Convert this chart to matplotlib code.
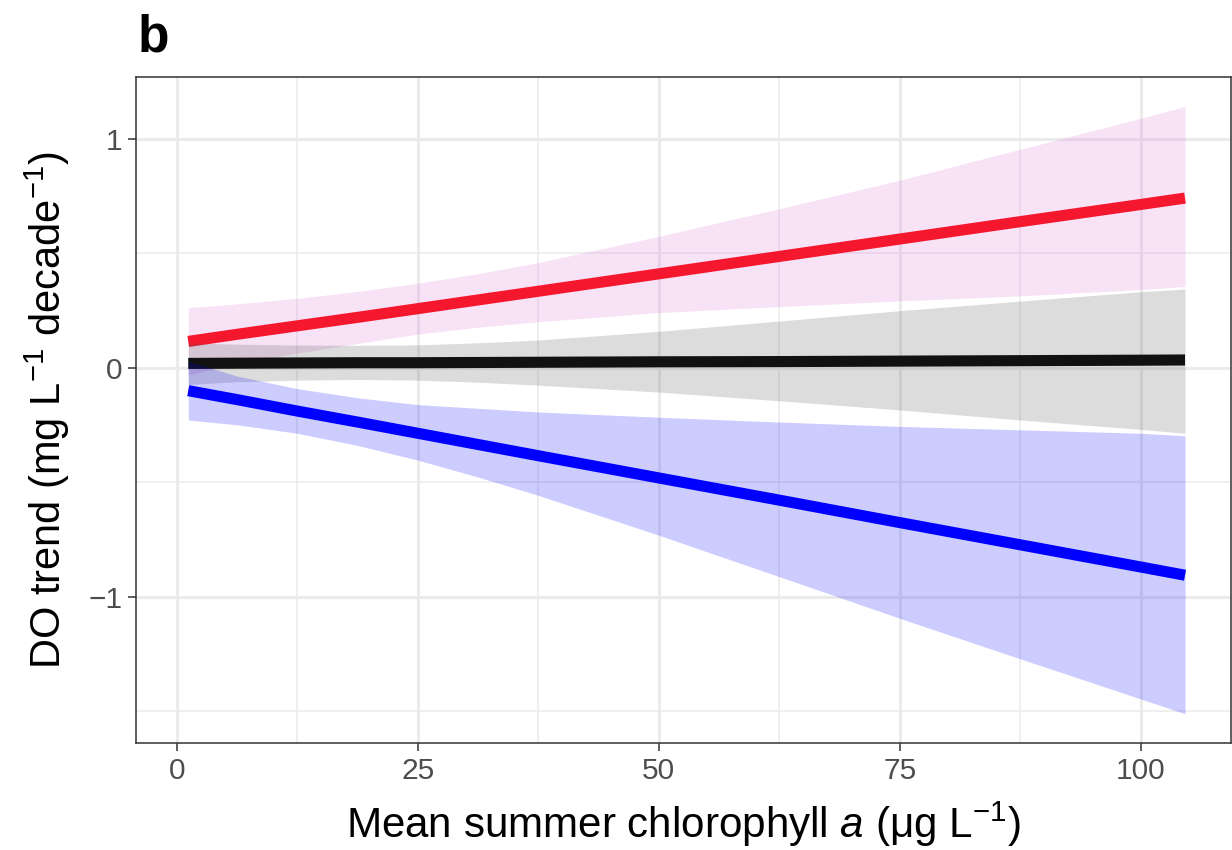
import matplotlib
matplotlib.use("Agg")
import matplotlib.pyplot as plt
from matplotlib.ticker import FixedLocator

plt.rcParams['font.family'] = ['Liberation Sans', 'DejaVu Sans']
plt.rcParams['mathtext.fontset'] = 'custom'
plt.rcParams['mathtext.rm'] = 'Liberation Sans'
plt.rcParams['mathtext.it'] = 'Liberation Sans:italic'
plt.rcParams['mathtext.bf'] = 'Liberation Sans:bold'

# ---- data ----
chl = [1.2, 6.25, 12.5, 18.75, 25, 31.25, 37.5, 50, 62.5, 75, 87.5, 100, 104.6]

red_fit = [0.116, 0.147, 0.184, 0.221, 0.259, 0.297, 0.335, 0.411, 0.487, 0.563, 0.639, 0.714, 0.742]
red_lo = [-0.030, 0.020, 0.065, 0.107, 0.148, 0.178, 0.202, 0.242, 0.268, 0.293, 0.315, 0.342, 0.356]
red_hi = [0.263, 0.280, 0.304, 0.334, 0.370, 0.412, 0.460, 0.575, 0.695, 0.820, 0.955, 1.090, 1.142]

grey_fit = [0.020, 0.021, 0.022, 0.023, 0.023, 0.024, 0.025, 0.027, 0.028, 0.030, 0.032, 0.034, 0.035]
grey_lo = [-0.072, -0.060, -0.053, -0.050, -0.053, -0.062, -0.075, -0.105, -0.143, -0.183, -0.227, -0.268, -0.285]
grey_hi = [0.110, 0.104, 0.100, 0.099, 0.101, 0.110, 0.122, 0.160, 0.205, 0.250, 0.292, 0.333, 0.345]

blue_fit = [-0.099, -0.138, -0.188, -0.236, -0.285, -0.334, -0.383, -0.480, -0.577, -0.675, -0.772, -0.869, -0.905]
blue_lo = [-0.227, -0.248, -0.285, -0.338, -0.402, -0.476, -0.556, -0.730, -0.911, -1.093, -1.270, -1.445, -1.510]
blue_hi = [0.030, -0.035, -0.090, -0.130, -0.160, -0.176, -0.192, -0.215, -0.236, -0.255, -0.270, -0.285, -0.296]

x_ticks = [0, 25, 50, 75, 100]
x_ticklabels = ['0', '25', '50', '75', '100']
x_minor = [12.5, 37.5, 62.5, 87.5]
y_ticks = [-1, 0, 1]
y_ticklabels = ['\u22121', '0', '1']
y_minor = [-1.5, -0.5, 0.5]

W, H = 1232, 850
fig = plt.figure(figsize=(W / 100, H / 100), dpi=100)
ax = fig.add_axes([136 / W, (H - 743) / H, (1231 - 136) / W, (743 - 77) / H])

# grid
for v in x_minor:
    ax.axvline(v, color='#EBEBEB', lw=1.1, zorder=0)
for v in y_minor:
    ax.axhline(v, color='#EBEBEB', lw=1.1, zorder=0)
for v in x_ticks:
    ax.axvline(v, color='#EBEBEB', lw=2.2, zorder=0)
for v in y_ticks:
    ax.axhline(v, color='#EBEBEB', lw=2.2, zorder=0)

lw = 8.0
# red (ribbon + line)
ax.fill_between(chl, red_lo, red_hi, color='#DA70D6', alpha=0.2, lw=0, zorder=2)
ax.plot(chl, red_fit, color='#F5172E', lw=lw, solid_capstyle='butt', zorder=3)
# grey
ax.fill_between(chl, grey_lo, grey_hi, color='#505050', alpha=0.2, lw=0, zorder=4)
ax.plot(chl, grey_fit, color='#111111', lw=lw, solid_capstyle='butt', zorder=5)
# blue
ax.fill_between(chl, blue_lo, blue_hi, color='#0000FF', alpha=0.2, lw=0, zorder=6)
ax.plot(chl, blue_fit, color='#0000FF', lw=lw, solid_capstyle='butt', zorder=7)

ax.set_xlim(-4.22, 109.37)
ax.set_ylim(-1.6376, 1.2707)

ax.xaxis.set_major_locator(FixedLocator(x_ticks))
ax.set_xticklabels(x_ticklabels)
ax.yaxis.set_major_locator(FixedLocator(y_ticks))
ax.set_yticklabels(y_ticklabels)
ax.tick_params(axis='both', which='major', length=5.8, width=1.1, color='#333333',
               labelsize=21.5, labelcolor='#4D4D4D', pad=4)

for s in ax.spines.values():
    s.set_color('#333333')
    s.set_linewidth(1.1)
    s.set_zorder(10)

ax.set_xlabel('Mean summer chlorophyll $\\mathit{a}$ (\u03bcg L$^{\\mathregular{-1}}$)', fontsize=30.3, color='black', labelpad=11)
ax.set_ylabel('DO trend (mg L$^{\\mathregular{-1}}$ decade$^{\\mathregular{-1}}$)', fontsize=30, color='black', labelpad=12)

fig.text(138 / W, 1 - 52 / H, 'b', fontsize=37, fontweight='bold', va='baseline', ha='left')

fig.savefig('out.png', dpi=100)
